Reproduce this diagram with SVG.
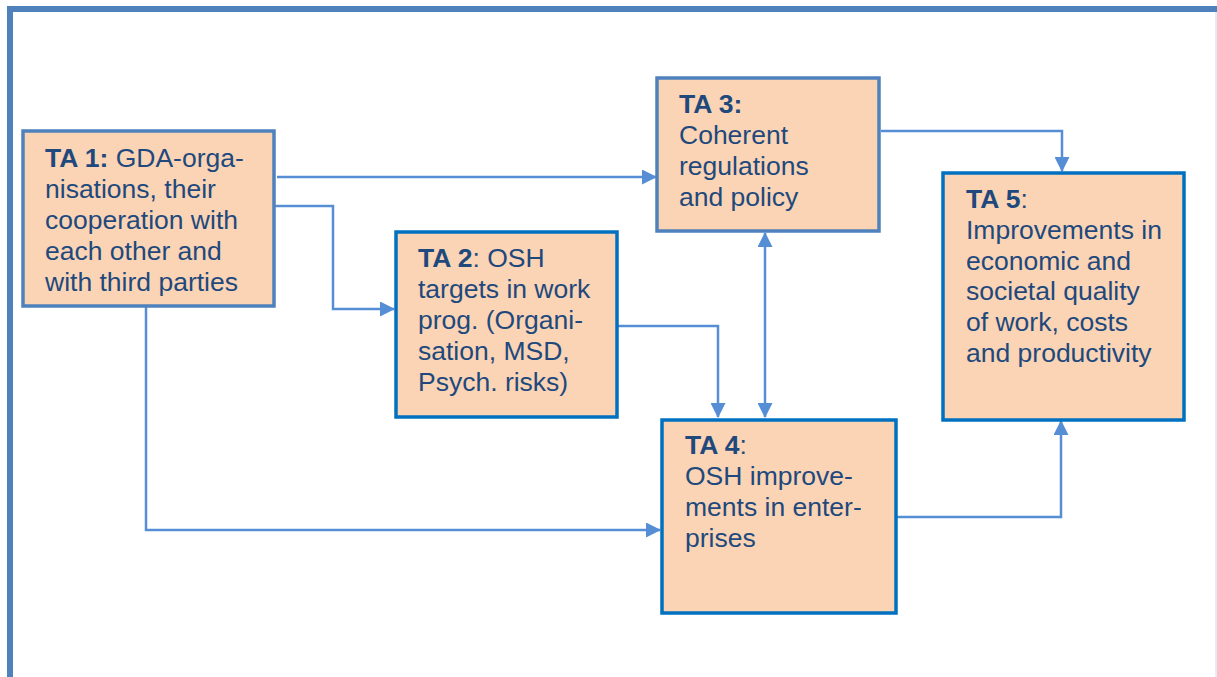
<svg xmlns="http://www.w3.org/2000/svg" width="1217" height="677" viewBox="0 0 1217 677">
<defs>
<style>
.box{fill:#FAD4B4;stroke-width:3.5}
.b1{stroke:#4F81BD}
.b2{stroke:#0070C0}
.t{font-family:"Liberation Sans",Arial,sans-serif;font-size:26.5px;fill:#1F497D}
.bd{font-weight:bold}
.c{fill:none;stroke:#558ED5;stroke-width:2.5}
</style>
<marker id="ah" markerUnits="userSpaceOnUse" markerWidth="15" markerHeight="15" viewBox="0 0 15 15" refX="14" refY="7.5" orient="auto-start-reverse">
<path d="M0,0 L15,7.5 L0,15 z" fill="#558ED5"/>
</marker>
</defs>
<rect width="1217" height="677" fill="#ffffff"/>
<g id="frame">
<line x1="7" y1="9" x2="1217" y2="9" stroke="#4F81BD" stroke-width="6"/>
<line x1="10" y1="6" x2="10" y2="677" stroke="#4F81BD" stroke-width="6"/>
<line x1="1216" y1="12" x2="1216" y2="677" stroke="#C6D9F1" stroke-width="1"/>
</g>
<g id="connectors">
<path class="c" d="M277,177 H656" marker-end="url(#ah)"/>
<path class="c" d="M274,206 H333 V309 H394" marker-end="url(#ah)"/>
<path class="c" d="M146,306 V530 H660" marker-end="url(#ah)"/>
<path class="c" d="M617,326 H718 V417" marker-end="url(#ah)"/>
<path class="c" d="M765,233 V417" marker-start="url(#ah)" marker-end="url(#ah)"/>
<path class="c" d="M881,131 H1062 V171" marker-end="url(#ah)"/>
<path class="c" d="M897,517 H1061 V421" marker-end="url(#ah)"/>
</g>
<g id="ta1">
<rect class="box b1" x="23" y="131" width="251" height="175"/>
<text class="t" x="45"><tspan y="167"><tspan class="bd">TA 1:</tspan> GDA-orga-</tspan><tspan x="45" y="198">nisations, their</tspan><tspan x="45" y="229">cooperation with</tspan><tspan x="45" y="260">each other and</tspan><tspan x="45" y="291">with third parties</tspan></text>
</g>
<g id="ta2">
<rect class="box b2" x="396" y="232" width="221" height="185"/>
<text class="t" x="418"><tspan y="267"><tspan class="bd">TA 2</tspan>: OSH</tspan><tspan x="418" y="298">targets in work</tspan><tspan x="418" y="329">prog. (Organi-</tspan><tspan x="418" y="360">sation, MSD,</tspan><tspan x="418" y="391">Psych. risks)</tspan></text>
</g>
<g id="ta3">
<rect class="box b1" x="657" y="78" width="222" height="153"/>
<text class="t" x="679"><tspan y="113" class="bd">TA 3:</tspan><tspan x="679" y="144">Coherent</tspan><tspan x="679" y="175">regulations</tspan><tspan x="679" y="206">and policy</tspan></text>
</g>
<g id="ta4">
<rect class="box b2" x="662" y="420" width="234" height="193"/>
<text class="t" x="685"><tspan y="454"><tspan class="bd">TA 4</tspan>:</tspan><tspan x="685" y="485">OSH improve-</tspan><tspan x="685" y="516">ments in enter-</tspan><tspan x="685" y="547">prises</tspan></text>
</g>
<g id="ta5">
<rect class="box b2" x="943" y="173" width="241" height="247"/>
<text class="t" x="966"><tspan y="208"><tspan class="bd">TA 5</tspan>:</tspan><tspan x="966" y="239">Improvements in</tspan><tspan x="966" y="270">economic and</tspan><tspan x="966" y="300">societal quality</tspan><tspan x="966" y="331">of work, costs</tspan><tspan x="966" y="362">and productivity</tspan></text>
</g>
</svg>
